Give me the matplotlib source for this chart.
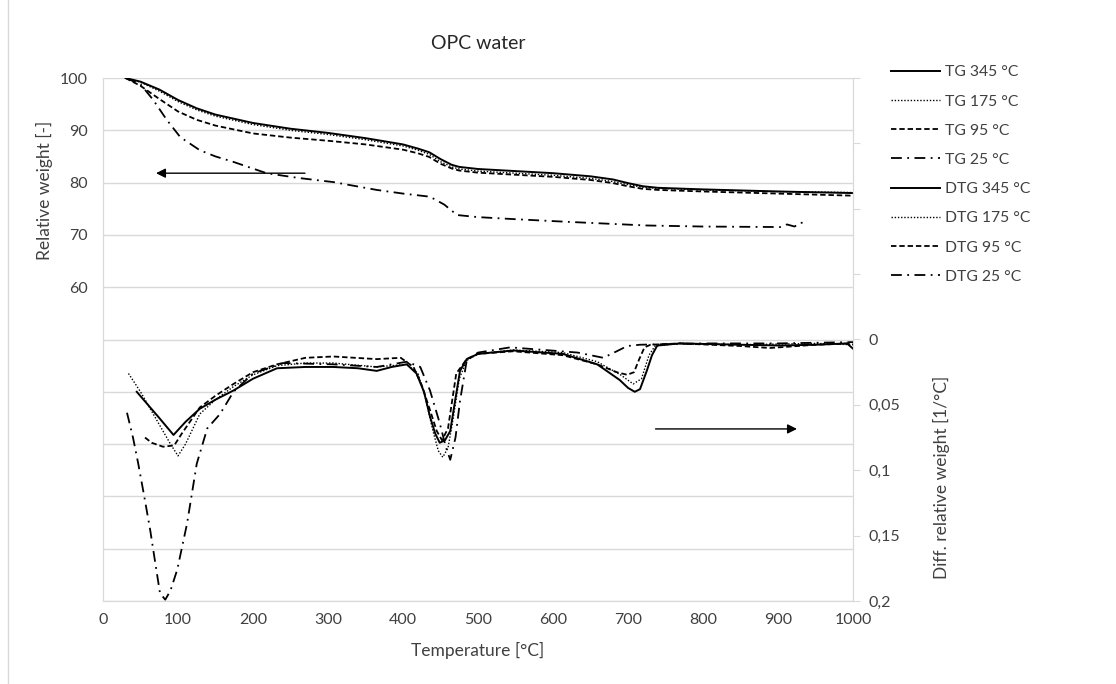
import numpy as np
import matplotlib
matplotlib.use("Agg")
import matplotlib.pyplot as plt
from matplotlib.lines import Line2D
from matplotlib.ticker import FuncFormatter

plt.rcParams['font.family'] = ['Lato', 'DejaVu Sans']

# TG curves (relative weight, left axis)
tg_T = [30, 50, 75, 100, 125, 150, 200, 250, 300, 350, 400, 420, 435, 450, 465, 475,
        500, 550, 600, 650, 680, 700, 720, 740, 800, 900, 1000]
tg_345 = [100, 99.3, 97.8, 95.8, 94.2, 93.0, 91.4, 90.3, 89.5, 88.5, 87.3, 86.5, 85.8, 84.5,
          83.4, 83.0, 82.6, 82.2, 81.8, 81.2, 80.6, 79.9, 79.3, 79.0, 78.7, 78.3, 78.0]
tg_175 = [100, 99.2, 97.5, 95.5, 93.9, 92.7, 91.1, 90.0, 89.2, 88.2, 87.0, 86.2, 85.4, 84.0,
          83.0, 82.6, 82.2, 81.8, 81.4, 80.8, 80.2, 79.6, 79.1, 78.9, 78.6, 78.3, 78.1]
tg_95 = [100, 98.5, 96.0, 93.6, 92.0, 90.9, 89.4, 88.6, 88.0, 87.3, 86.3, 85.6, 84.9, 83.6,
         82.7, 82.3, 81.9, 81.5, 81.1, 80.5, 79.9, 79.3, 78.8, 78.6, 78.3, 77.9, 77.5]
tg25_T = [30, 50, 67, 85, 103, 129, 150, 173, 218, 260, 307, 365, 400, 436, 455, 472,
          500, 550, 619, 725, 800, 903, 912, 922, 930, 940]
tg_25 = [100, 98.8, 95.8, 92.0, 88.7, 86.2, 85.0, 84.0, 81.8, 80.9, 80.1, 78.6, 77.9, 77.3,
         75.8, 73.8, 73.4, 73.0, 72.5, 71.8, 71.6, 71.5, 72.0, 71.6, 72.3, 72.4]

# DTG curves (right axis, inverted)
d345_T = [45, 60, 75, 94, 110, 129, 150, 174, 200, 232, 270, 307, 340, 365, 385, 405, 418,
          428, 436, 443, 449, 456, 463, 470, 476, 485, 500, 547, 613, 659, 689, 700, 709,
          716, 725, 732, 739, 769, 850, 903, 950, 992, 1000]
d345 = [0.040, 0.050, 0.060, 0.073, 0.063, 0.053, 0.046, 0.039, 0.030, 0.022, 0.021, 0.021,
        0.022, 0.024, 0.021, 0.019, 0.026, 0.040, 0.059, 0.072, 0.079, 0.077, 0.070, 0.045,
        0.024, 0.015, 0.011, 0.0084, 0.011, 0.019, 0.031, 0.037, 0.040, 0.038, 0.024, 0.012,
        0.0046, 0.003, 0.004, 0.0046, 0.004, 0.003, 0.007]
d175_T = [34, 50, 70, 90, 100, 110, 129, 150, 174, 200, 232, 270, 307, 365, 405, 420, 430,
          440, 447, 453, 460, 467, 475, 485, 500, 547, 613, 659, 690, 707, 718, 728, 736,
          769, 850, 950, 1000]
d175 = [0.026, 0.040, 0.060, 0.080, 0.089, 0.080, 0.057, 0.046, 0.036, 0.027, 0.020, 0.018,
        0.018, 0.021, 0.019, 0.026, 0.045, 0.070, 0.085, 0.090, 0.083, 0.060, 0.030, 0.016,
        0.011, 0.008, 0.010, 0.017, 0.027, 0.034, 0.030, 0.012, 0.005, 0.003, 0.004, 0.003,
        0.004]
d95_T = [56, 65, 80, 95, 105, 129, 150, 174, 200, 232, 270, 307, 365, 397, 414, 425, 436,
         445, 452, 460, 471, 485, 500, 547, 613, 659, 685, 699, 708, 715, 722, 730, 769, 850,
         889, 950, 1000]
d95 = [0.075, 0.079, 0.082, 0.081, 0.072, 0.052, 0.043, 0.034, 0.025, 0.019, 0.014, 0.013,
       0.015, 0.014, 0.021, 0.035, 0.054, 0.070, 0.077, 0.068, 0.026, 0.015, 0.011, 0.009,
       0.012, 0.019, 0.025, 0.027, 0.025, 0.015, 0.006, 0.004, 0.003, 0.005, 0.0065, 0.004,
       0.003]
d25_T = [32, 40, 47, 55, 63, 70, 76, 83, 90, 99, 112, 125, 139, 156, 174, 200, 240, 307, 365,
         405, 423, 436, 449, 457, 463, 470, 476, 485, 500, 543, 633, 667, 685, 699, 716, 800,
         900, 1000]
d25 = [0.056, 0.075, 0.095, 0.120, 0.146, 0.172, 0.194, 0.199, 0.192, 0.176, 0.141, 0.095,
       0.068, 0.057, 0.040, 0.026, 0.018, 0.019, 0.021, 0.017, 0.021, 0.039, 0.064, 0.082,
       0.092, 0.075, 0.047, 0.016, 0.010, 0.006, 0.010, 0.014, 0.009, 0.005, 0.004, 0.003,
       0.003, 0.002]

txt = '#404040'
grid = '#d9d9d9'

s_solid = dict(color='black', lw=1.4, ls='-')
s_dot = dict(color='black', lw=1.0, ls=(0, (1, 1.3)))
s_dash = dict(color='black', lw=1.3, ls=(0, (3, 1.6)))
s_dd = dict(color='black', lw=1.3, ls=(0, (6, 3, 1, 3)))


def comma_fmt(v, p):
    if v < -1e-9:
        return ''
    return ('%g' % abs(round(v, 3))).replace('.', ',')


fig = plt.figure(figsize=(11.16, 6.84), dpi=100)
ax1 = fig.add_axes([103 / 1116, 1 - 601 / 684, 750 / 1116, 523 / 684])
ax2 = ax1.twinx()

h = []
h += ax1.plot(tg_T, tg_345, label='TG 345 °C', **s_solid)
h += ax1.plot(tg_T, tg_175, label='TG 175 °C', **s_dot)
h += ax1.plot(tg_T, tg_95, label='TG 95 °C', **s_dash)
h += ax1.plot(tg25_T, tg_25, label='TG 25 °C', **s_dd)
h += ax2.plot(d345_T, d345, label='DTG 345 °C', **s_solid)
h += ax2.plot(d175_T, d175, label='DTG 175 °C', **s_dot)
h += ax2.plot(d95_T, d95, label='DTG 95 °C', **s_dash)
h += ax2.plot(d25_T, d25, label='DTG 25 °C', **s_dd)

ax1.set_xlim(0, 1000)
ax1.set_xticks(np.arange(0, 1001, 100))
ax1.set_ylim(0, 100)
ax1.set_yticks(np.arange(0, 101, 10))
ax1.yaxis.set_major_formatter(FuncFormatter(lambda v, p: f'{v:.0f}' if v >= 60 else ''))
ax1.grid(axis='y', color=grid, lw=1)
ax1.set_axisbelow(True)

ax2.set_ylim(0.2, -0.2)
ax2.set_yticks(np.arange(-0.2, 0.2001, 0.05))
ax2.yaxis.set_major_formatter(FuncFormatter(comma_fmt))

for ax in (ax1, ax2):
    for sp in ax.spines.values():
        sp.set_color(grid)
    ax.spines['top'].set_visible(False)
ax1.tick_params(axis='both', length=0, labelsize=11.5, labelcolor=txt, pad=11)
ax1.tick_params(axis='x', pad=9)
ax2.tick_params(axis='y', length=5, color=grid, labelsize=11.5, labelcolor=txt, pad=6)

ax1.set_xlabel('Temperature [°C]', fontsize=12.5, color=txt)
ax1.set_ylabel('Relative weight [-]', fontsize=12.5, color=txt)
ax2.set_ylabel('Diff. relative weight [1/°C]', fontsize=12.5, color=txt)
ax1.xaxis.set_label_coords(0.5, -0.078)
ax1.yaxis.set_label_coords(-0.067, 0.786)
ax2.yaxis.set_label_coords(1.107, 0.237)
ax1.set_title('OPC water', fontsize=14, color='#262626', pad=21)

# arrows pointing to the axis each group belongs to
ax1.annotate('', xy=(67, 81.8), xytext=(273, 81.8),
             arrowprops=dict(arrowstyle='-|>', color='black', lw=1.0, mutation_scale=14))
ax1.annotate('', xy=(929, 32.9), xytext=(733, 32.9),
             arrowprops=dict(arrowstyle='-|>', color='black', lw=1.0, mutation_scale=14))

fig.legend(h, [l.get_label() for l in h], loc='upper left',
           bbox_to_anchor=(885 / 1116, 1 - 59 / 684), frameon=False,
           fontsize=11.3, labelcolor=txt, handlelength=3.1, handletextpad=0.3,
           labelspacing=0.97, borderaxespad=0)

fig.add_artist(Line2D([8 / 1116, 8 / 1116], [0, 1], color=grid, lw=1))

fig.savefig('out.png', dpi=100)
